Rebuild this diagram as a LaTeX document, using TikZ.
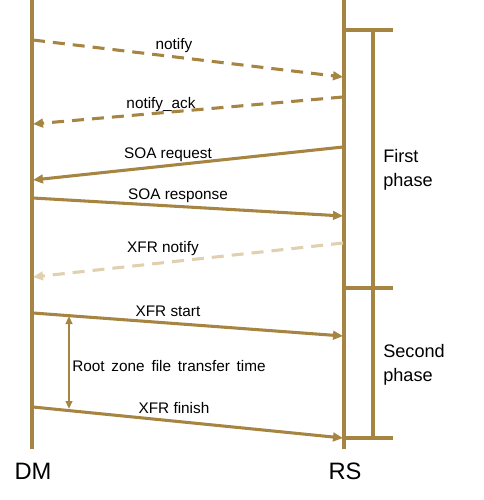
\documentclass[tikz,border=0pt]{standalone}
\usepackage{fontspec}
\setmainfont{Liberation Sans}
\usetikzlibrary{arrows.meta}
\definecolor{tan}{RGB}{166,132,66}
\definecolor{lighttan}{RGB}{224,208,176}
\begin{document}
\begin{tikzpicture}[x=0.75pt,y=-0.75pt,
  life/.style={draw=tan,line width=3pt},
  msg/.style={draw=tan,line width=2.3pt,-{Triangle[length=7.5pt,width=6.5pt]}},
  dmsg/.style={msg,dash pattern=on 9pt off 6pt},
  lmsg/.style={dmsg,draw=lighttan,-{Triangle[length=7.5pt,width=6.5pt,fill=lighttan]}},
  brk/.style={draw=tan,line width=2.3pt},
  lbl/.style={font=\fontsize{11.5pt}{13pt}\selectfont,inner sep=0pt},
  phase/.style={font=\fontsize{13.6pt}{18pt}\selectfont,align=left,anchor=west,inner sep=0pt},
  actor/.style={font=\fontsize{17.8pt}{20pt}\selectfont,inner sep=0pt}]
\useasboundingbox (0,0) rectangle (484,500);
% lifelines
\coordinate (dmT) at (32,0); \coordinate (dmB) at (32,449);
\coordinate (rsT) at (344,0); \coordinate (rsB) at (344,449);
\draw[life] (dmT) -- (dmB);
\draw[life] (rsT) -- (rsB);
% message endpoints
\coordinate (n1) at (33,40);   \coordinate (n2) at (343,77);
\coordinate (a1) at (343,97);  \coordinate (a2) at (33,124);
\coordinate (q1) at (343,147); \coordinate (q2) at (33,180);
\coordinate (r1) at (33,198);  \coordinate (r2) at (343,216);
\coordinate (x1) at (343,243); \coordinate (x2) at (33,277);
\coordinate (s1) at (33,313);  \coordinate (s2) at (343,336);
\coordinate (f1) at (33,407);  \coordinate (f2) at (343,438);
\draw[dmsg] (n1) -- (n2);
\draw[dmsg] (a1) -- (a2);
\draw[msg] (q1) -- (q2);
\draw[msg] (r1) -- (r2);
\draw[lmsg] (x1) -- (x2);
\draw[msg] (s1) -- (s2);
\draw[msg] (f1) -- (f2);
% labels
\node[lbl] (ln) at (174,46) {notify};
\node[lbl] (la) at (161,105) {notify\_ack};
\node[lbl] (lq) at (168,155) {SOA request};
\node[lbl] (lr) at (178,196) {SOA response};
\node[lbl] (lx) at (163,249) {XFR notify};
\node[lbl] (ls) at (168,311) {XFR start};
\node[lbl] (lf) at (174,408) {XFR finish};
% transfer time
\coordinate (t1) at (69,316); \coordinate (t2) at (69,409);
\draw[draw=tan,line width=1.6pt,{Triangle[length=6pt,width=5pt]}-{Triangle[length=6pt,width=5pt]}] (t1) -- (t2);
\node[lbl,anchor=west] (lt) at (72,366) {\spaceskip=1.6\fontdimen2\font Root zone file transfer time};
% phase bracket
\coordinate (b1) at (344,30); \coordinate (b1e) at (393,30);
\coordinate (b2) at (344,288); \coordinate (b2e) at (393,288);
\coordinate (b3) at (344,438); \coordinate (b3e) at (393,438);
\coordinate (v1) at (373,30); \coordinate (v2) at (373,438);
\draw[brk] (b1) -- (b1e);
\draw[brk] (b2) -- (b2e);
\draw[brk] (b3) -- (b3e);
\draw[brk] (v1) -- (v2);
\node[phase] (p1) at (383,170) {First\\phase};
\node[phase] (p2) at (383,365) {Second\\phase};
% actors
\node[actor] (dm) at (33,471) {DM};
\node[actor] (rs) at (345,471) {RS};
\end{tikzpicture}
\end{document}
